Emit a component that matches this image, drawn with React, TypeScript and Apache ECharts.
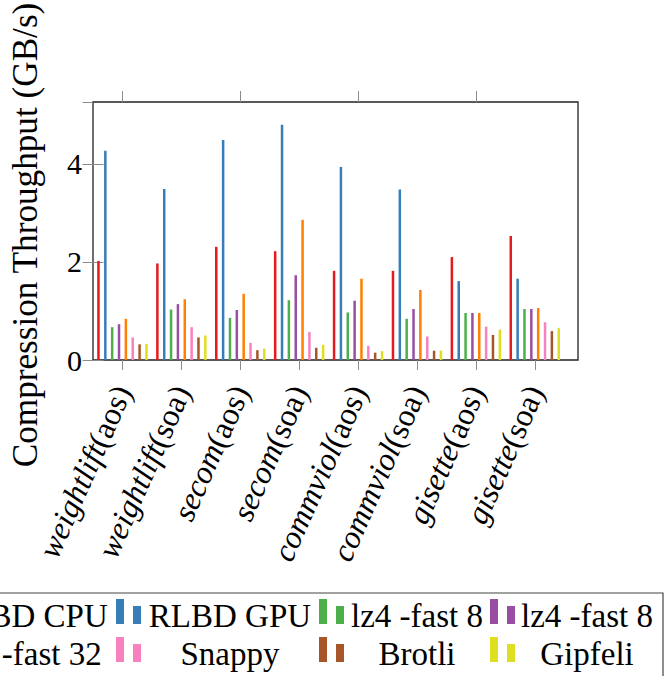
import React, { useEffect, useRef } from "react";
import * as echarts from "echarts";

const categories = [
  "weightlift(aos)",
  "weightlift(soa)",
  "secom(aos)",
  "secom(soa)",
  "commviol(aos)",
  "commviol(soa)",
  "gisette(aos)",
  "gisette(soa)",
];

const legendLabels = [
  "RLBD CPU",
  "RLBD GPU",
  "lz4 -fast 8",
  "lz4 -fast 8",
  "lz4 -fast 32",
  "Snappy",
  "Brotli",
  "Gipfeli",
];
const seriesIds = ["s0", "s1", "s2", "s3", "s4", "s5", "s6", "s7"];

const rlbdCpu = [2.02, 1.97, 2.31, 2.22, 1.82, 1.82, 2.1, 2.53];
const rlbdGpu = [4.27, 3.49, 4.49, 4.8, 3.94, 3.48, 1.61, 1.66];
const lz4Fast8 = [0.67, 1.03, 0.86, 1.22, 0.97, 0.84, 0.96, 1.04];
const lz4Fast8b = [0.73, 1.14, 1.02, 1.73, 1.21, 1.04, 0.96, 1.04];
const lz4Fast32 = [0.84, 1.24, 1.35, 2.86, 1.66, 1.43, 0.96, 1.06];
const snappy = [0.46, 0.67, 0.35, 0.57, 0.29, 0.48, 0.68, 0.77];
const brotli = [0.32, 0.46, 0.2, 0.25, 0.15, 0.19, 0.51, 0.59];
const gipfeli = [0.33, 0.5, 0.23, 0.31, 0.18, 0.19, 0.62, 0.65];

const seriesValues = [rlbdCpu, rlbdGpu, lz4Fast8, lz4Fast8b, lz4Fast32, snappy, brotli, gipfeli];
const colors = ["#e41a1c", "#377eb8", "#4daf4a", "#984ea3", "#ff7f00", "#f781bf", "#a65628", "#dfdf22"];

const yTicks = [0, 2, 4];

const FONT = "Liberation Serif";

export default function App() {
  const ref = useRef<HTMLDivElement>(null);
  useEffect(() => {
    if (!ref.current) return;
    const chart = echarts.init(ref.current, null, { renderer: "svg" });
    const yMax = 5.265;
    const colWidths = [167, 168, 136, 134];
    const rich: any = {};
    colWidths.forEach((w, i) => {
      rich["c" + i] = {
        width: w,
        align: "center",
        fontSize: 33,
        lineHeight: 33,
        fontFamily: FONT,
        color: "#000",
      };
    });
    const option: any = {
      animation: false,
      backgroundColor: "#fff",
      grid: [
        { left: 93, top: 102, width: 471.2, bottom: 316, show: false, containLabel: false, outerBoundsMode: "none" },
        {
          left: 93,
          top: 102,
          width: 485,
          bottom: 316,
          show: true,
          borderColor: "#222",
          borderWidth: 1.3,
          backgroundColor: "transparent",
          containLabel: false,
          outerBoundsMode: "none",
        },
      ],
      legend: {
        data: seriesIds,
        left: -96,
        top: 593,
        width: 770,
        orient: "horizontal",
        itemWidth: 25,
        itemHeight: 33,
        itemGap: 5,
        padding: [6, 9, 20, 10],
        borderColor: "#444",
        borderWidth: 1.2,
        icon: "path://M0,0H8V25H0Z M17,7H25V25H17Z M0,33L0.01,33Z",
        symbolKeepAspect: false,
        selectedMode: false,
        formatter: (name: string) => {
          const i = seriesIds.indexOf(name);
          return `{c${i % 4}|${legendLabels[i]}}`;
        },
        textStyle: { rich, fontFamily: FONT, fontSize: 33, color: "#000" },
      },
      xAxis: [
        {
          type: "category",
          gridIndex: 0,
          data: categories,
          position: "bottom",
          axisLine: { show: false },
          axisTick: { show: true, alignWithLabel: true, length: 10, lineStyle: { color: "#8c8c8c", width: 1 } },
          axisLabel: {
            interval: 0,
            rotate: 66,
            margin: 27,
            fontFamily: FONT,
            fontSize: 32,
            formatter: (v: string) => {
              const k = v.indexOf("(");
              return `{i|${v.slice(0, k)}}{n|${v.slice(k)}}`;
            },
            rich: {
              i: { fontStyle: "italic", fontSize: 32, fontFamily: FONT, color: "#000" },
              n: { fontSize: 32, fontFamily: FONT, color: "#000" },
            },
          },
          splitLine: { show: false },
        },
        {
          type: "category",
          gridIndex: 0,
          data: categories,
          position: "top",
          axisLine: { show: false },
          axisTick: { show: true, alignWithLabel: true, length: 11, lineStyle: { color: "#8c8c8c", width: 1 } },
          axisLabel: { show: false },
          splitLine: { show: false },
        },
        { type: "value", gridIndex: 1, min: 0, max: 1, show: false },
      ],
      yAxis: [
        {
          type: "value",
          gridIndex: 0,
          min: 0,
          max: yMax,
          interval: 2,
          position: "left",
          name: "Compression Throughput (GB/s)",
          nameLocation: "middle",
          nameGap: 50,
          nameRotate: 90,
          nameTextStyle: { fontSize: 35.2, fontFamily: FONT, color: "#000", padding: [0, 8, 0, 0] },
          axisLine: { show: false },
          axisTick: { show: true, inside: true, length: 10.5, lineStyle: { color: "#8c8c8c", width: 1 } },
          axisLabel: {
            margin: 11,
            fontSize: 30,
            fontFamily: FONT,
            color: "#000",
            showMaxLabel: false,
            formatter: (v: number) => (yTicks.includes(v) ? String(v) : ""),
          },
          splitLine: { show: false },
        },
        {
          type: "value",
          gridIndex: 1,
          min: 0,
          max: yMax,
          interval: 2,
          position: "right",
          axisLine: { show: false },
          axisTick: { show: true, inside: true, length: 10.5, lineStyle: { color: "#8c8c8c", width: 1 } },
          axisLabel: { show: false },
          splitLine: { show: false },
        },
      ],
      series: seriesValues.map((vals, i) => ({
        type: "bar",
        name: seriesIds[i],
        xAxisIndex: 0,
        yAxisIndex: 0,
        data: vals,
        barWidth: 2.5,
        barGap: "174%",
        itemStyle: { color: colors[i] },
      })),
    };
    chart.setOption(option);
    return () => chart.dispose();
  }, []);
  return (
    <div
      ref={ref}
      style={{ position: "fixed", left: 0, top: 0, width: 671, height: 676 }}
    />
  );
}
